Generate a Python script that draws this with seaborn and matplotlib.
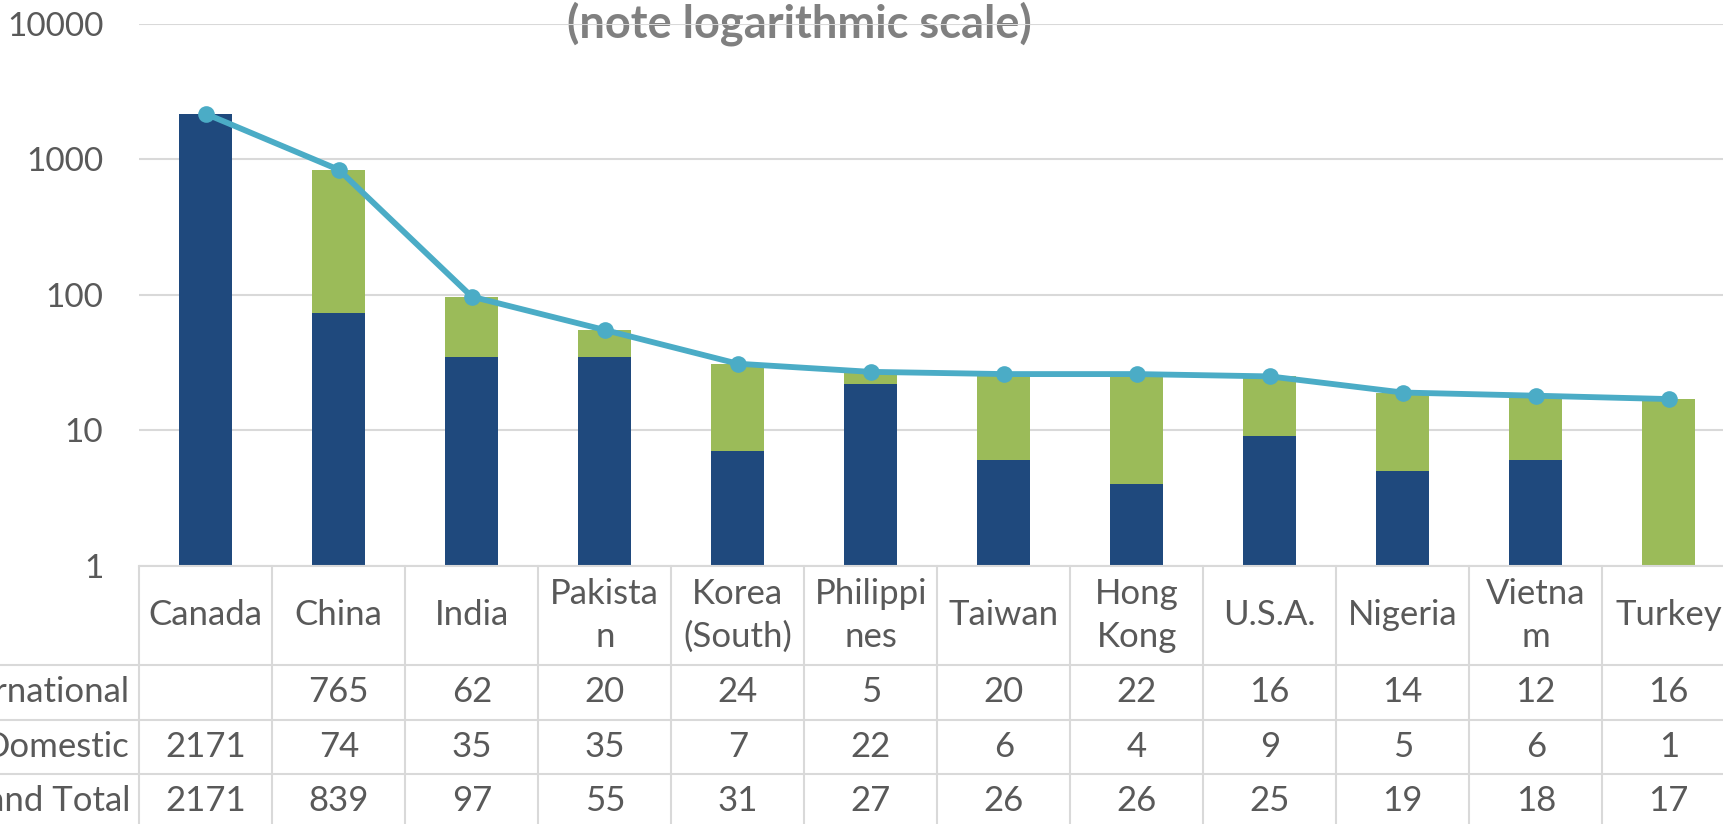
import matplotlib
matplotlib.use("Agg")
import matplotlib.pyplot as plt
import matplotlib.transforms as mtransforms
from matplotlib.lines import Line2D
import numpy as np
import seaborn as sns

# ------------------------------------------------------------
# Data
# ------------------------------------------------------------
countries = ["Canada", "China", "India", "Pakistan", "Korea (South)", "Philippines",
             "Taiwan", "Hong Kong", "U.S.A.", "Nigeria", "Vietnam", "Turkey"]
header_labels = ["Canada", "China", "India", "Pakista\nn", "Korea\n(South)", "Philippi\nnes",
                 "Taiwan", "Hong\nKong", "U.S.A.", "Nigeria", "Vietna\nm", "Turkey"]
international = [None, 765, 62, 20, 24, 5, 20, 22, 16, 14, 12, 16]
domestic = [2171, 74, 35, 35, 7, 22, 6, 4, 9, 5, 6, 1]
grand_total = [2171, 839, 97, 55, 31, 27, 26, 26, 25, 19, 18, 17]
row_names = ["International", "Domestic", "Grand Total"]
y_ticks = [1, 10, 100, 1000, 10000]

# ------------------------------------------------------------
# Style
# ------------------------------------------------------------
DARK_BLUE = "#1F497D"
GREEN = "#9BBB59"
LINE_BLUE = "#4BACC6"
GRID = "#D9D9D9"
TEXT = "#595959"
TABLE_FS = 25

sns.set_theme(style="white")
plt.rcParams["font.family"] = ["Lato", "DejaVu Sans"]

W, H = 1724, 824
fig = plt.figure(figsize=(W / 100, H / 100), dpi=100)

# plot area in pixel terms
left_px, top_px, bottom_px, col_w = 139.3, 24.0, 565.7, 133.0
ax = fig.add_axes([left_px / W, (H - bottom_px) / H,
                   12 * col_w / W, (bottom_px - top_px) / H])
ax.set_facecolor("none")
ax.set_yscale("log")

# stacked bars: total (green) behind, domestic (blue) in front
sns.barplot(x=countries, y=grand_total, color=GREEN, width=0.4, saturation=1,
            linewidth=0, ax=ax)
sns.barplot(x=countries, y=domestic, color=DARK_BLUE, width=0.4, saturation=1,
            linewidth=0, ax=ax)
sns.lineplot(x=np.arange(len(countries)), y=grand_total, color=LINE_BLUE,
             linewidth=4.2, marker="o", markersize=12, markeredgewidth=0,
             ax=ax, zorder=5)

ax.set_xlim(-0.5, len(countries) - 0.5)
ax.set_ylim(1, 10000)
ax.set_xticks([])
ax.set_xlabel("")
ax.set_ylabel("")
ax.set_yticks(y_ticks)
ax.set_yticklabels([str(t) for t in y_ticks])
ax.yaxis.set_minor_locator(matplotlib.ticker.NullLocator())
ax.tick_params(axis="y", length=0, pad=26, labelsize=24, labelcolor=TEXT)
ax.yaxis.grid(True, color=GRID, linewidth=1.5)
ax.set_axisbelow(True)
for side in ["left", "right", "top"]:
    ax.spines[side].set_visible(False)
ax.spines["bottom"].set_color(GRID)
ax.spines["bottom"].set_linewidth(1.5)

# ------------------------------------------------------------
# Data table under the plot
# ------------------------------------------------------------
trans = mtransforms.blended_transform_factory(ax.transData, fig.transFigure)


def fy(px):
    return (H - px) / H


row_edges = [565.7, 665.0, 719.5, 774.0, 828.5]

# horizontal rules (data rows reach into the row-label column)
for yy in row_edges[1:]:
    fig.add_artist(Line2D([0, 1.01], [fy(yy), fy(yy)], transform=fig.transFigure,
                          color=GRID, linewidth=1.5))
# vertical rules
for i in range(len(countries) + 1):
    ax.add_line(Line2D([i - 0.5, i - 0.5], [fy(row_edges[0]), fy(row_edges[-1])],
                       transform=trans, color=GRID, linewidth=1.5, clip_on=False))

# header
for i, lab in enumerate(header_labels):
    ax.text(i, fy((row_edges[0] + row_edges[1]) / 2), lab, transform=trans,
            ha="center", va="center", fontsize=TABLE_FS, color=TEXT, linespacing=1.4)

rows = [international, domestic, grand_total]
for r, (name, vals) in enumerate(zip(row_names, rows)):
    yc = fy((row_edges[r + 1] + row_edges[r + 2]) / 2)
    fig.text(130 / W, yc, name, ha="right", va="center", fontsize=TABLE_FS, color=TEXT)
    for i, v in enumerate(vals):
        if v is None:
            continue
        ax.text(i, yc, str(v), transform=trans, ha="center", va="center",
                fontsize=TABLE_FS, color=TEXT)

# title (top line is cut off in the source image)
fig.text(799 / W, fy(37), "(note logarithmic scale)", ha="center", va="baseline",
         fontsize=32.5, fontweight="bold", color="#808080", zorder=-1)

fig.savefig("out.png", dpi=100)
